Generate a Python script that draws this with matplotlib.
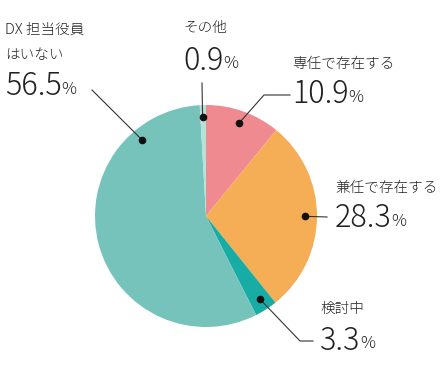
import numpy as np
import matplotlib
matplotlib.use("Agg")
import matplotlib.pyplot as plt

plt.rcParams['font.family'] = ['Noto Sans CJK JP', 'DejaVu Sans']

# data (clockwise from 12 o'clock)
labels = ['専任で存在する', '兼任で存在する', '検討中', 'DX 担当役員\nはいない', 'その他']
values = [10.9, 28.3, 3.3, 56.5, 0.9]
colors = ['#EF8A90', '#F6AE56', '#17ADA5', '#75C3BB', '#B6E0DB']

W, H = 442, 384
fig = plt.figure(figsize=(W / 100, H / 100), dpi=100)
ax = fig.add_axes([0, 0, 1, 1])

def Y(y):
    return H - y

cx, cy, R = 206, 216, 111
ax.pie(values, colors=colors, startangle=90, counterclock=False,
       center=(cx, Y(cy)), radius=R, frame=True,
       wedgeprops=dict(linewidth=0))
ax.set_xlim(0, W)
ax.set_ylim(0, H)
ax.set_aspect('equal')
ax.axis('off')

# angle (deg clockwise from top) of each dot; mid-angle except the big slice
cum = np.cumsum([0] + values[:-1])
mid = [(c + v / 2) / 100 * 360 for c, v in zip(cum, values)]
mid[3] = 320

# leader path after the dot, text position (left x, label y, number y)
leaders = [
    [(264, 95), (290, 95)],
    [(327, 217)],
    [(300, 341), (313, 341)],
    [(92, 90)],
    [(202, 83)],
]
text_pos = [
    (292, [64], 94),
    (335, [188], 218),
    (320, [309], 341),
    (5, [30, 55], 86),
    (183, [28], 61),
]

fig.canvas.draw()
renderer = fig.canvas.get_renderer()
inv = ax.transData.inverted()

for i, v in enumerate(values):
    a = np.radians(mid[i])
    dx, dy = cx + 0.89 * R * np.sin(a), cy - 0.89 * R * np.cos(a)
    pts = [(dx, dy)] + leaders[i]
    ax.plot([p[0] for p in pts], [Y(p[1]) for p in pts], color='#333333', lw=0.8, zorder=3)
    ax.plot(dx, Y(dy), 'o', color='#111111', ms=4.5, zorder=4)

    tx, ly, ny = text_pos[i]
    for line, yy in zip(labels[i].split('\n'), ly):
        ax.text(tx, Y(yy), line, fontsize=10.5, color='#222222', va='center', ha='left',
                fontweight='light')
    t = ax.text(tx, Y(ny), f'{v:.1f}', fontsize=22, color='#222222', va='center', ha='left',
                fontweight='light', fontstretch='condensed')
    bb = t.get_window_extent(renderer)
    x_end = inv.transform((bb.x1, bb.y0))[0]
    ax.text(x_end, Y(ny + 3), '%', fontsize=12, color='#222222', va='center', ha='left',
            fontweight='light')

fig.savefig('out.png', dpi=100)
